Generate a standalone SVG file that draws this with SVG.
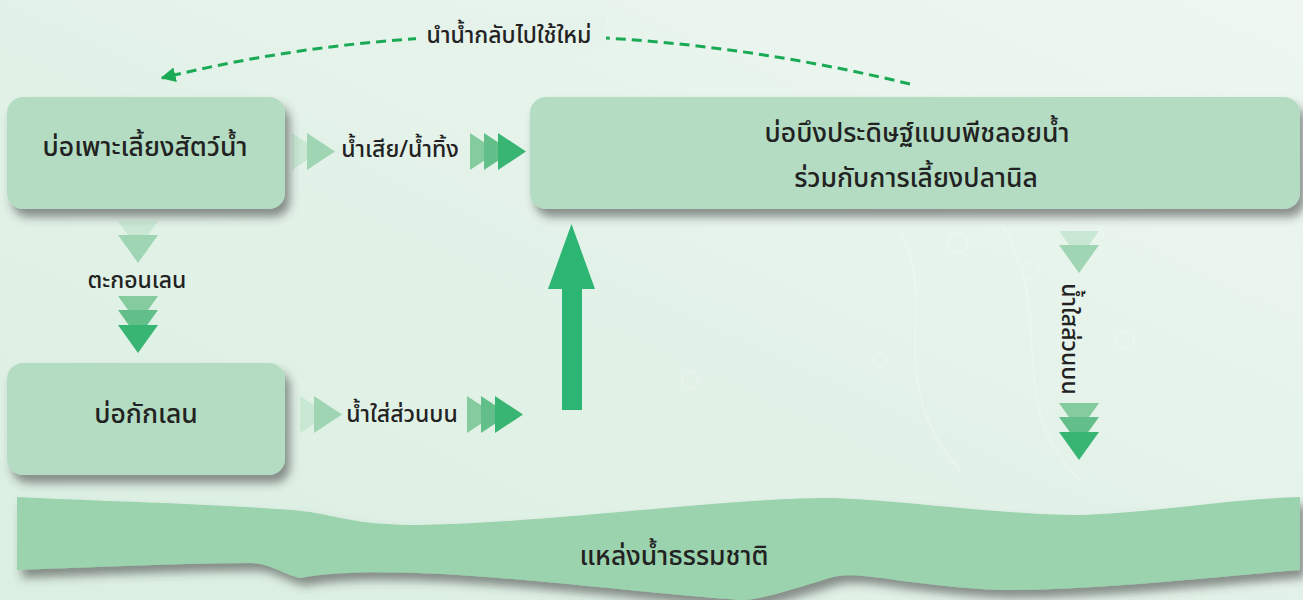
<svg xmlns="http://www.w3.org/2000/svg" width="1303" height="600" viewBox="0 0 1303 600">
<defs>
<linearGradient id="bg" x1="0" y1="1" x2="1" y2="0">
<stop offset="0" stop-color="#dbefe2"/>
<stop offset="0.5" stop-color="#e3f2e8"/>
<stop offset="1" stop-color="#eef7f2"/>
</linearGradient>
<filter id="sh" x="-10%" y="-20%" width="125%" height="150%">
<feDropShadow dx="5" dy="8" stdDeviation="5" flood-color="#3a3a3a" flood-opacity="0.55"/>
</filter>
<marker id="ah" viewBox="0 0 10 10" refX="9" refY="5" markerWidth="5" markerHeight="5" orient="auto" markerUnits="strokeWidth">
<path d="M0,0 L10,5 L0,10 z" fill="#1aaa55"/>
</marker>
<path id="tr" d="M0,0 L28,18.5 L0,37 z"/>
<path id="td" d="M0,0 L40,0 L20,28 z"/>
</defs>
<style>
.box{fill:#b3dcc2;filter:url(#sh)}
.t{font-family:"Noto Sans Thai","Noto Sans","DejaVu Sans",sans-serif;fill:#222;text-anchor:middle;font-weight:500}
.big{font-size:26.5px}
.sm{font-size:23px}
.c1{fill:#c8e8d4}
.c2{fill:#9fd5b3}
.c3{fill:#84cb9e}
.c4{fill:#63bf89}
.c5{fill:#38b572}
</style>
<rect width="1303" height="600" fill="url(#bg)"/>
<g opacity="0.18" fill="none" stroke="#ffffff" stroke-width="2">
<circle cx="958" cy="243" r="10"/>
<circle cx="1030" cy="270" r="8"/>
<circle cx="880" cy="360" r="7"/>
<circle cx="1125" cy="340" r="9"/>
<circle cx="690" cy="380" r="8"/>
<path d="M900 230 C940 300 880 380 960 470"/>
<path d="M1000 220 C1060 320 1000 400 1080 480"/>
</g>

<g id="connectors">
<path d="M910 84 Q520 -10 162 78" fill="none" stroke="#1aaa55" stroke-width="3" stroke-dasharray="10 6" marker-end="url(#ah)"/>
<g id="arr-waste">
<use href="#tr" x="292" y="133" class="c1"/>
<use href="#tr" x="307" y="133" class="c2"/>
<use href="#tr" x="470" y="133" class="c3"/>
<use href="#tr" x="484" y="133" class="c4"/>
<use href="#tr" x="498" y="133" class="c5"/>
</g>
<g id="arr-sludge">
<use href="#td" x="118" y="221" class="c1"/>
<use href="#td" x="118" y="235" class="c2"/>
<use href="#td" x="118" y="296" class="c3"/>
<use href="#td" x="118" y="310" class="c4"/>
<use href="#td" x="118" y="325" class="c5"/>
</g>
<g id="arr-clear">
<use href="#tr" x="300" y="396" class="c1"/>
<use href="#tr" x="314" y="396" class="c2"/>
<use href="#tr" x="467" y="396" class="c3"/>
<use href="#tr" x="481" y="396" class="c4"/>
<use href="#tr" x="495" y="396" class="c5"/>
</g>
<g id="arr-out">
<use href="#td" x="1059" y="231" class="c1"/>
<use href="#td" x="1059" y="245" class="c2"/>
<use href="#td" x="1059" y="403" class="c3"/>
<use href="#td" x="1059" y="417" class="c4"/>
<use href="#td" x="1059" y="432" class="c5"/>
</g>
<path id="arr-up" d="M562 410 L582 410 L582 289 L595 289 L571.5 224 L548 289 L562 289 z" fill="#2db673"/>
</g>

<g id="lbl-reuse">
<rect x="416" y="15" width="190" height="35" fill="#e5f3ea"/>
<text class="t sm" x="509" y="43">นำน้ำกลับไปใช้ใหม่</text>
</g>
<text class="t sm" x="400" y="157">น้ำเสีย/น้ำทิ้ง</text>
<text class="t sm" x="137" y="288">ตะกอนเลน</text>
<text class="t sm" x="402" y="422">น้ำใส่ส่วนบน</text>
<text class="t sm" transform="translate(1062,339) rotate(90)">น้ำใสส่วนบน</text>

<g id="node-nursery">
<rect class="box" x="7" y="97" width="278" height="112" rx="16"/>
<text class="t big" x="145" y="156">บ่อเพาะเลี้ยงสัตว์น้ำ</text>
</g>
<g id="node-wetland">
<rect class="box" x="530" y="97" width="770" height="112" rx="16"/>
<text class="t big" x="917" y="142">บ่อบึงประดิษฐ์แบบพีชลอยน้ำ</text>
<text class="t big" x="916" y="187">ร่วมกับการเลี้ยงปลานิล</text>
</g>
<g id="node-sediment">
<rect class="box" x="7" y="363" width="278" height="112" rx="16"/>
<text class="t big" x="146" y="423">บ่อกักเลน</text>
</g>
<g id="node-natural">
<path class="box" style="fill:#9ad3ad" d="M17 497 C120 502 250 505 310 512 C345 518 360 525 420 525 C560 522 720 498 833 498 C900 500 1000 515 1083 515 C1150 513 1220 500 1300 497 L1300 570 C1200 578 1100 590 1000 590 C900 585 860 570 833 577 C790 590 760 600 740 600 C600 590 400 560 300 578 C280 573 270 563 250 563 C180 563 100 567 17 570 z"/>
<text class="t big" x="674" y="565">แหล่งน้ำธรรมชาติ</text>
</g>
</svg>
